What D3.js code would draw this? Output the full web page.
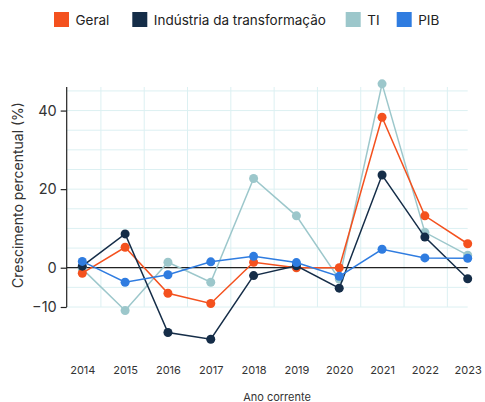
<!DOCTYPE html>
<html>
<head>
<meta charset="utf-8">
<script src="https://cdn.jsdelivr.net/npm/d3@7"></script>
<style>
  html, body { margin: 0; padding: 0; background: #fff; }
  svg { display: block; font-family: Inter, "Noto Sans", sans-serif; }
</style>
</head>
<body>
<svg id="chart" width="485" height="402"></svg>
<script>
const years = [2014, 2015, 2016, 2017, 2018, 2019, 2020, 2021, 2022, 2023];
const geral = [-1.4, 5.2, -6.5, -9.1, 1.4, 0.0, 0.0, 38.3, 13.2, 6.1];
const industria = [0.4, 8.6, -16.5, -18.2, -2.0, 0.5, -5.2, 23.6, 7.8, -2.8];
const ti = [-0.3, -10.9, 1.4, -3.7, 22.7, 13.2, -2.9, 46.8, 9.0, 3.2];
const pib = [1.6, -3.7, -1.8, 1.5, 2.9, 1.3, -2.2, 4.7, 2.5, 2.4];
const seriesNames = ["Geral", "Indústria da transformação", "TI", "PIB"];
const seriesColors = ["#f4511e", "#152d48", "#9cc7cb", "#2f7ce0"];
const yTicks = [-10, 0, 20, 40];
const yGridTicks = [-10, -5, 0, 5, 10, 15, 20, 25, 30, 35, 40, 45];
const xLabel = "Ano corrente";
const yLabel = "Crescimento percentual (%)";

(function () {
const seriesData = [geral, industria, ti, pib];
const svg = d3.select("#chart");

const pLeft = 66.7, pRight = 467.7, pTop = 87, pBottom = 307;
const x = d3.scalePoint().domain(years).range([82.3, 467.7]);
const y = d3.scaleLinear().domain([-10, 46]).range([pBottom, pTop]);
const xGrid = d3.scaleLinear().domain([-0.79, 8.47]).range([pLeft, pRight]);

// grid
const grid = svg.append("g");
grid.selectAll("line.h").data(yGridTicks).join("line").attr("class", "h")
  .attr("x1", pLeft).attr("x2", pRight)
  .attr("y1", d => y(d)).attr("y2", d => y(d))
  .attr("stroke", "#dcf0f2").attr("stroke-width", 1);
grid.selectAll("line.v").data(d3.range(0, 9)).join("line").attr("class", "v")
  .attr("x1", d => xGrid(d)).attr("x2", d => xGrid(d))
  .attr("y1", pTop).attr("y2", pBottom)
  .attr("stroke", "#dcf0f2").attr("stroke-width", 1);

// zero line
svg.append("line")
  .attr("x1", pLeft).attr("x2", pRight)
  .attr("y1", y(0)).attr("y2", y(0))
  .attr("stroke", "#222").attr("stroke-width", 1.2);

// y axis
const yAxis = svg.append("g")
  .attr("transform", `translate(${pLeft},0)`)
  .call(d3.axisLeft(y).tickValues(yTicks).tickSize(6).tickPadding(4).tickFormat(d3.format("d")));
yAxis.select(".domain").attr("d", `M0,${pTop}V${pBottom}`).attr("stroke", "#222").attr("stroke-width", 1.2);
yAxis.selectAll(".tick line").attr("stroke", "#222").attr("stroke-width", 1.2);
yAxis.selectAll(".tick text").attr("font-size", 14.5).attr("fill", "#333").attr("font-family", "Inter, sans-serif");

// x labels
const xAxis = svg.append("g")
  .attr("transform", `translate(0,${pBottom})`)
  .call(d3.axisBottom(x).tickSize(0).tickPadding(59));
xAxis.select(".domain").remove();
xAxis.selectAll(".tick text").attr("font-size", 11).attr("fill", "#333").attr("font-family", "Inter, sans-serif");

// axis titles
svg.append("text").attr("x", 277).attr("y", 400.5)
  .attr("text-anchor", "middle").attr("font-size", 11).attr("fill", "#333")
  .text(xLabel);
svg.append("text").attr("transform", "translate(23,195) rotate(-90)")
  .attr("text-anchor", "middle").attr("font-size", 14).attr("fill", "#333")
  .text(yLabel);

// lines & points (draw order)
const order = [2, 0, 1, 3];
const line = d3.line().x((d, i) => x(years[i])).y(d => y(d));
order.forEach(si => {
  const g = svg.append("g");
  g.append("path").datum(seriesData[si])
    .attr("d", line).attr("fill", "none")
    .attr("stroke", seriesColors[si]).attr("stroke-width", 1.5);
  g.selectAll("circle").data(seriesData[si]).join("circle")
    .attr("cx", (d, i) => x(years[i])).attr("cy", d => y(d))
    .attr("r", 4.5).attr("fill", seriesColors[si]);
});

// legend
const legendX = [54, 132.3, 345.7, 396.7];
const legend = svg.append("g");
seriesNames.forEach((name, i) => {
  legend.append("rect").attr("x", legendX[i]).attr("y", 12)
    .attr("width", 15).attr("height", 15).attr("fill", seriesColors[i]);
  legend.append("text").attr("x", legendX[i] + 21.5).attr("y", 24.5)
    .attr("font-size", 13.5).attr("fill", "#222").text(name);
});
})();
</script>
</body>
</html>
